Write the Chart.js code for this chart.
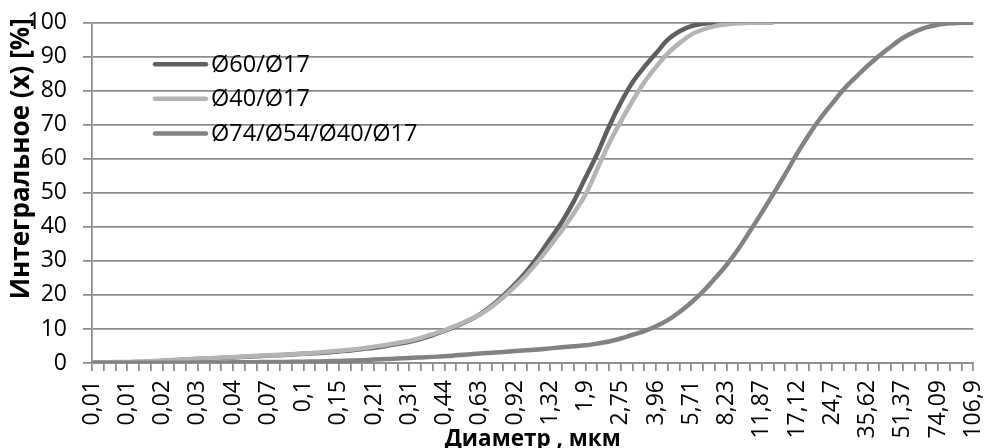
<!DOCTYPE html>
<html>
<head>
<meta charset="utf-8">
<script src="https://cdn.jsdelivr.net/npm/chart.js@4/dist/chart.umd.min.js"></script>
<style>
  html, body { margin: 0; padding: 0; background: #fff; overflow: hidden; }
  #wrap { width: 985px; height: 448px; overflow: hidden; position: relative; }
  canvas { display: block; }
</style>
</head>
<body>
<div id="wrap"><canvas id="c" width="985" height="456"></canvas></div>
<script>
// Particle diameter classes, µm (every third one is labelled on the axis)
const diameters = [
  "0,01", "0,01", "0,01", "0,01", "0,01", "0,02", "0,02", "0,02", "0,02",
  "0,03", "0,04", "0,04", "0,04", "0,05", "0,06", "0,07", "0,08", "0,09",
  "0,1", "0,11", "0,13", "0,15", "0,17", "0,19", "0,21", "0,24", "0,27",
  "0,31", "0,35", "0,4", "0,44", "0,5", "0,56", "0,63", "0,71", "0,8",
  "0,92", "1,04", "1,17", "1,32", "1,49", "1,68", "1,9", "2,15", "2,43",
  "2,75", "3,11", "3,51", "3,96", "4,47", "5,05", "5,71", "6,45", "7,29",
  "8,23", "9,3", "10,51", "11,87", "13,41", "15,15", "17,12", "19,34", "21,85",
  "24,7", "27,91", "31,53", "35,62", "40,24", "45,47", "51,37", "58,04", "65,57",
  "74,09", "83,71", "94,58", "106,9"
];

const seriesNames = ["Ø60/Ø17", "Ø40/Ø17", "Ø74/Ø54/Ø40/Ø17"];
const xTitle = "Диаметр , мкм";
const yTitle = "Интегральное (x) [%]";

// Cumulative fraction, %
const cum60 = [
  0.1, 0.1, 0.2, 0.2, 0.3, 0.4, 0.6, 0.8, 1.0, 1.2,
  1.3, 1.5, 1.6, 1.8, 2.0, 2.2, 2.3, 2.5, 2.7, 2.9,
  3.1, 3.4, 3.7, 4.1, 4.5, 5.0, 5.6, 6.2, 7.1, 8.2,
  9.4, 10.8, 12.4, 14.3, 16.8, 19.8, 23.2, 27.0, 31.5, 36.5,
  41.5, 47.5, 54.5, 61.5, 69.5, 76.5, 82.5, 87.0, 91.0, 95.0,
  97.5, 99.0, 99.7, 100, 100, 100
];

const cum40 = [
  0.2, 0.2, 0.3, 0.3, 0.4, 0.5, 0.7, 0.9, 1.1, 1.3,
  1.4, 1.6, 1.7, 1.9, 2.1, 2.3, 2.4, 2.6, 2.8, 3.0,
  3.3, 3.6, 3.9, 4.3, 4.8, 5.3, 5.9, 6.5, 7.4, 8.5,
  9.6, 11.0, 12.5, 14.2, 16.5, 19.3, 22.5, 26.0, 30.0, 34.5,
  39.0, 44.0, 49.5, 57.0, 64.5, 71.0, 77.0, 82.5, 87.0, 91.0,
  94.0, 96.5, 98.0, 99.0, 99.5, 99.8, 100, 100, 100
];

const cum74 = [
  0.1, 0.1, 0.1, 0.1, 0.1, 0.1, 0.1, 0.1, 0.1, 0.1,
  0.15, 0.15, 0.2, 0.2, 0.25, 0.3, 0.3, 0.35, 0.4, 0.45,
  0.5, 0.6, 0.7, 0.8, 1.0, 1.15, 1.3, 1.5, 1.65, 1.8,
  2.0, 2.25, 2.5, 2.8, 3.0, 3.25, 3.5, 3.75, 4.0, 4.3,
  4.6, 4.9, 5.2, 5.7, 6.3, 7.2, 8.3, 9.4, 10.8, 12.6,
  15.0, 17.8, 21.0, 24.8, 28.8, 33.5, 38.8, 44.2, 49.8, 55.5,
  61.5, 67.0, 72.0, 76.3, 80.5, 84.0, 87.3, 90.3, 93.0, 95.5,
  97.3, 98.6, 99.4, 99.8, 100, 100
];

const FAMILY = "'Open Sans', 'Liberation Sans', sans-serif";
const GRID = '#8c8c8c';

// Legend drawn inside the plot area, over the grid
const insetLegend = {
  id: 'insetLegend',
  afterDatasetsDraw(chart) {
    const { ctx, chartArea } = chart;
    ctx.save();
    chart.data.datasets.forEach((ds, i) => {
      const y = chartArea.top + 41.5 + i * 34.6;
      const x0 = chartArea.left + 63;
      ctx.strokeStyle = ds.borderColor;
      ctx.lineWidth = 4.5;
      ctx.lineCap = 'round';
      ctx.beginPath();
      ctx.moveTo(x0, y);
      ctx.lineTo(x0 + 51, y);
      ctx.stroke();
      ctx.fillStyle = '#000';
      ctx.font = '23.5px ' + FAMILY;
      ctx.textAlign = 'left';
      ctx.textBaseline = 'middle';
      ctx.fillText(ds.label, x0 + 56, y + 1);
    });
    ctx.restore();
  }
};

// Vertical axis title, ending just above the top of the value axis
const valueAxisTitle = {
  id: 'valueAxisTitle',
  afterDraw(chart) {
    const { ctx, chartArea } = chart;
    ctx.save();
    ctx.translate(chartArea.left - 70, chartArea.top - 4.5);
    ctx.rotate(-Math.PI / 2);
    ctx.fillStyle = '#000';
    ctx.font = 'bold 26px ' + FAMILY;
    ctx.textAlign = 'right';
    ctx.textBaseline = 'middle';
    ctx.fillText(yTitle, 0, 0);
    ctx.restore();
  }
};

const line = (label, data, color, order) => ({
  label, data,
  borderColor: color,
  backgroundColor: color,
  borderWidth: 4.5,
  pointRadius: 0,
  fill: false,
  cubicInterpolationMode: 'monotone',
  order
});

new Chart(document.getElementById('c'), {
  type: 'line',
  data: {
    labels: diameters,
    datasets: [
      line(seriesNames[0], cum60, '#5f5f5f', 2),
      line(seriesNames[1], cum40, '#b4b4b4', 1),
      line(seriesNames[2], cum74, '#828282', 0)
    ]
  },
  options: {
    responsive: false,
    animation: false,
    devicePixelRatio: 1,
    layout: { padding: { left: 0, right: 11.7, top: 22.7, bottom: 0 } },
    plugins: { legend: { display: false }, tooltip: { enabled: false } },
    scales: {
      x: {
        type: 'category',
        grid: { drawOnChartArea: false, drawTicks: true, tickLength: 8, color: GRID, lineWidth: 1.75 },
        border: { display: true, color: GRID, width: 1.75 },
        ticks: {
          autoSkip: false, maxRotation: 90, minRotation: 90, padding: 9,
          color: '#000', font: { family: FAMILY, size: 23 },
          callback(v, i) { return i % 3 === 0 ? this.getLabelForValue(v) : ''; }
        },
        title: {
          display: true, text: xTitle, color: '#000',
          font: { family: FAMILY, size: 22.5, weight: 'bold' },
          padding: { top: 0, bottom: 3 }
        },
        afterFit(s) { s.height = 93; s.paddingRight = 0; }
      },
      y: {
        min: 0, max: 100,
        ticks: { stepSize: 10, padding: 16, color: '#000', font: { family: FAMILY, size: 23 } },
        grid: { color: GRID, lineWidth: 1.75, tickLength: 9 },
        border: { display: true, color: GRID, width: 1.75 },
        title: { display: false },
        afterFit(s) { s.width = 92; s.paddingTop = 0; s.paddingBottom = 0; }
      }
    }
  },
  plugins: [insetLegend, valueAxisTitle]
});
</script>
</body>
</html>
